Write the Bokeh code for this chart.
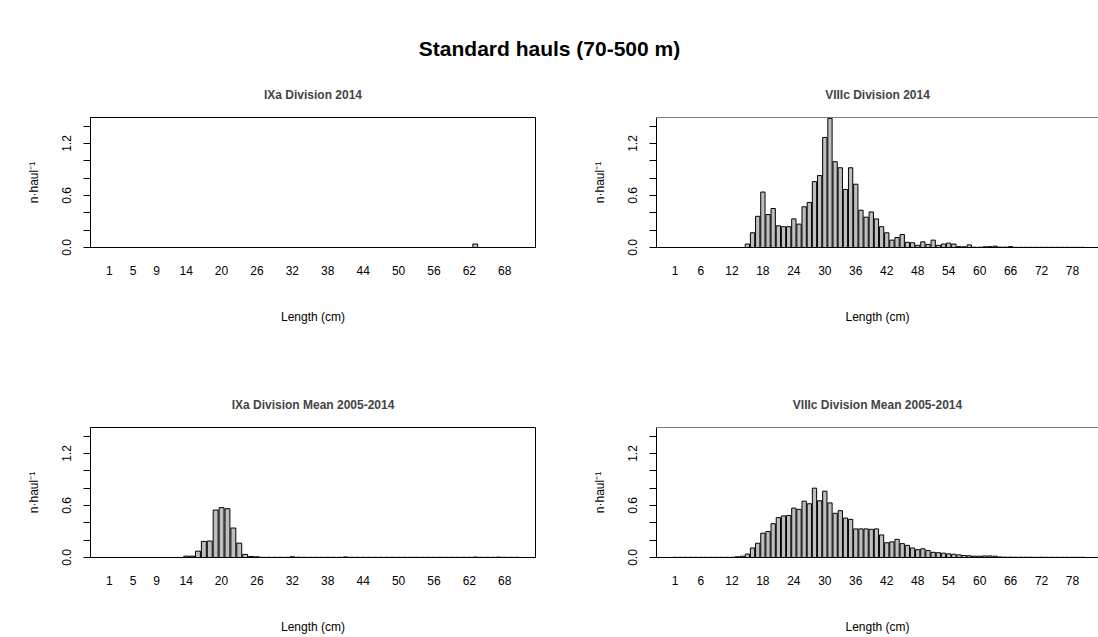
from bokeh.plotting import figure
from bokeh.layouts import column, row
from bokeh.models import FixedTicker, Range1d, Span, PrintfTickFormatter
from bokeh.core.properties import value
from bokeh.embed import file_html
from bokeh.resources import INLINE

FONT = "Liberation Sans"
BAR_FILL = "#BEBEBE"

main_title = "Standard hauls (70-500 m)"
titles = ["IXa Division 2014", "VIIIc Division 2014",
          "IXa Division Mean 2005-2014", "VIIIc Division Mean 2005-2014"]

# Length classes (cm)
lengths_ixa = list(range(1, 71))
lengths_viiic = list(range(1, 81))

# Labelled length classes on each x axis
ticks_ixa = [1, 5, 9, 14, 20, 26, 32, 38, 44, 50, 56, 62, 68]
ticks_viiic = [1, 6, 12, 18, 24, 30, 36, 42, 48, 54, 60, 66, 72, 78]

# Abundance per haul by length class
ixa_2014 = [
    0, 0, 0, 0, 0, 0, 0, 0, 0, 0,
    0, 0, 0, 0, 0, 0, 0, 0, 0, 0,
    0, 0, 0, 0, 0, 0, 0, 0, 0, 0,
    0, 0, 0, 0, 0, 0, 0, 0, 0, 0,
    0, 0, 0, 0, 0, 0, 0, 0, 0, 0,
    0, 0, 0, 0, 0, 0, 0, 0, 0, 0,
    0, 0, 0.04, 0, 0, 0, 0, 0, 0, 0,
]
viiic_2014 = [
    0, 0, 0, 0, 0, 0, 0, 0, 0, 0,
    0, 0, 0, 0, 0.04, 0.17, 0.36, 0.64, 0.38, 0.45,
    0.25, 0.24, 0.24, 0.33, 0.27, 0.47, 0.52, 0.76, 0.83, 1.27,
    1.49, 0.99, 0.92, 0.67, 0.92, 0.73, 0.43, 0.35, 0.41, 0.33,
    0.24, 0.17, 0.085, 0.115, 0.15, 0.06, 0.055, 0.025, 0.065, 0.035,
    0.085, 0.025, 0.04, 0.05, 0.04, 0.01, 0.008, 0.03, 0.003, 0.003,
    0.008, 0.01, 0.015, 0.004, 0.004, 0.01, 0.002, 0.002, 0.002, 0.002,
    0.002, 0.002, 0.002, 0.002, 0.002, 0.002, 0.002, 0.002, 0.002, 0.002,
]
ixa_mean = [
    0, 0, 0, 0, 0, 0, 0, 0, 0, 0,
    0, 0, 0, 0.016, 0.016, 0.073, 0.186, 0.19, 0.547, 0.575,
    0.563, 0.34, 0.166, 0.036, 0.012, 0.008, 0.002, 0.002, 0.002, 0.002,
    0.002, 0.008, 0.003, 0.002, 0.002, 0.002, 0.002, 0.002, 0.002, 0.002,
    0.006, 0.002, 0.002, 0.002, 0.002, 0.002, 0.002, 0.002, 0.002, 0.002,
    0.002, 0.002, 0.002, 0.002, 0.002, 0.002, 0.002, 0.002, 0.002, 0.002,
    0.002, 0.002, 0.005, 0.002, 0.002, 0.002, 0.004, 0.002, 0.002, 0.002,
]
viiic_mean = [
    0.002, 0.002, 0.002, 0.002, 0.002, 0.002, 0.002, 0.002, 0.002, 0.002,
    0.002, 0.002, 0.008, 0.015, 0.04, 0.11, 0.165, 0.28, 0.30, 0.39,
    0.46, 0.48, 0.485, 0.57, 0.555, 0.65, 0.62, 0.80, 0.655, 0.765,
    0.63, 0.51, 0.54, 0.455, 0.44, 0.33, 0.33, 0.33, 0.325, 0.33,
    0.26, 0.17, 0.18, 0.21, 0.16, 0.14, 0.11, 0.09, 0.10, 0.08,
    0.06, 0.055, 0.05, 0.042, 0.038, 0.03, 0.023, 0.02, 0.015, 0.015,
    0.018, 0.018, 0.015, 0.006, 0.004, 0.004, 0.003, 0.003, 0.003, 0.003,
    0.002, 0.003, 0.002, 0.002, 0.002, 0.002, 0.002, 0.002, 0.002, 0.002,
]

y_major = [0, 0.6, 1.2]
y_minor = [0.2, 0.4, 0.8, 1.0, 1.4]
Y_MAX = 1.5

PANEL_W = 549
FULL_FRAME_W = 445  # frame width of an uncropped panel


def barplot_range(n):
    # barplot geometry: unit bars with 0.2 gaps, padded by 4 % on each side
    lo, hi = 0.2, 1.2 * n
    ext = 0.04 * (hi - lo)
    start = 1 + (lo - ext - 0.7) / 1.2
    end = 1 + (hi + ext - 0.7) / 1.2
    return start, end


def panel(title, lengths, values, ticks, height, border_bottom, right_side):
    start, end = barplot_range(len(lengths))
    if right_side:
        b_left, b_right = 107, 0
        frame_w = PANEL_W - b_left - b_right
        end = start + (end - start) * frame_w / FULL_FRAME_W
    else:
        b_left, b_right = 90, 14
    p = figure(width=PANEL_W, height=height, output_backend="svg",
               toolbar_location=None,
               x_range=Range1d(start, end), y_range=Range1d(0, Y_MAX),
               min_border_left=b_left, min_border_right=b_right,
               min_border_top=47, min_border_bottom=border_bottom)
    p.title.text = title
    p.title.align = "center"
    p.title.text_font = FONT
    p.title.text_font_size = "12px"
    p.title.text_font_style = "bold"
    p.title.standoff = 31
    p.xgrid.visible = False
    p.ygrid.visible = False
    p.background_fill_color = "white"
    p.border_fill_color = "white"

    p.vbar(x=lengths, top=values, bottom=0, width=1 / 1.2,
           fill_color=BAR_FILL, line_color="black", line_width=1)

    xa = p.xaxis[0]
    xa.ticker = FixedTicker(ticks=ticks)
    xa.major_tick_out = 0
    xa.major_tick_in = 0
    xa.minor_tick_out = 0
    xa.minor_tick_in = 0
    xa.axis_line_color = "black"
    xa.major_label_text_font = FONT
    xa.major_label_text_font_size = "12px"
    xa.major_label_text_color = "black"
    xa.major_label_standoff = 18
    xa.axis_label = "Length (cm)"
    xa.axis_label_text_font = FONT
    xa.axis_label_text_font_size = "12px"
    xa.axis_label_text_font_style = "normal"
    xa.axis_label_text_color = "black"
    xa.axis_label_standoff = 32

    ya = p.yaxis[0]
    ya.ticker = FixedTicker(ticks=y_major, minor_ticks=y_minor)
    ya.formatter = PrintfTickFormatter(format="%.1f")
    ya.major_tick_out = 7
    ya.major_tick_in = 0
    ya.minor_tick_out = 7
    ya.minor_tick_in = 0
    ya.major_tick_line_color = "black"
    ya.minor_tick_line_color = "black"
    ya.axis_line_color = "black"
    ya.major_label_orientation = "vertical"
    ya.major_label_text_font = FONT
    ya.major_label_text_font_size = "12px"
    ya.major_label_text_color = "black"
    ya.major_label_standoff = 13
    ya.axis_label = "n\u00b7haul\u207b\u00b9"
    ya.axis_label_text_font = FONT
    ya.axis_label_text_font_size = "12px"
    ya.axis_label_text_font_style = "normal"
    ya.axis_label_text_color = "black"
    ya.axis_label_standoff = 18

    if right_side:
        # open on the right: only the top edge of the box is added
        p.outline_line_color = None
        p.add_layout(Span(location=Y_MAX, dimension="width",
                          line_color="black", line_width=1))
    else:
        p.outline_line_color = "black"
        p.outline_line_alpha = 1
        p.outline_line_width = 1
    return p


head = figure(width=1098, height=70, output_backend="svg",
              toolbar_location=None, x_range=Range1d(0, 1098),
              y_range=Range1d(0, 70), x_axis_location=None,
              y_axis_location=None, min_border=0)
head.outline_line_color = None
head.xgrid.visible = False
head.ygrid.visible = False
head.text(x=[549], y=[22], text=[main_title], text_font=value(FONT),
          text_font_size="21px", text_font_style="bold",
          text_align="center", text_baseline="middle", text_color="black")

p1 = panel(titles[0], lengths_ixa, ixa_2014, ticks_ixa, 310, 133, False)
p2 = panel(titles[1], lengths_viiic, viiic_2014, ticks_viiic, 310, 133, True)
p3 = panel(titles[2], lengths_ixa, ixa_mean, ticks_ixa, 257, 80, False)
p4 = panel(titles[3], lengths_viiic, viiic_mean, ticks_viiic, 257, 80, True)

layout = column(head, row(p1, p2), row(p3, p4))
open("out.html", "w").write(file_html(layout, INLINE))
